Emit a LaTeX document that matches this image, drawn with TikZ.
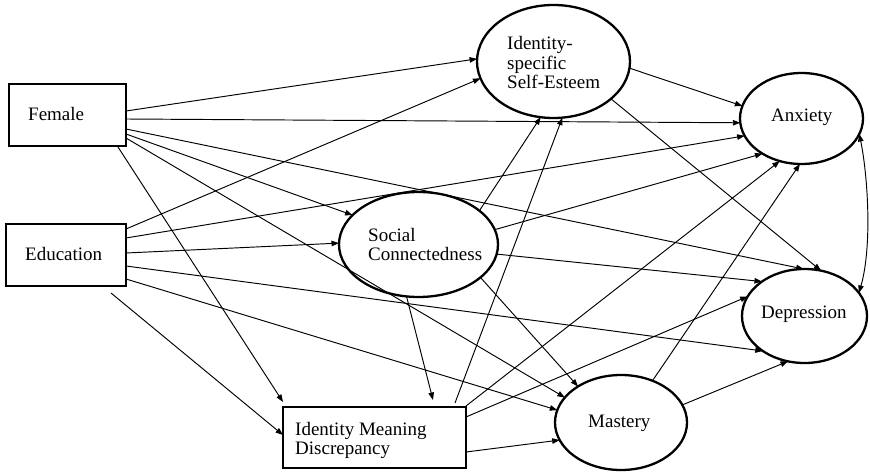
\documentclass[tikz,border=0pt]{standalone}
\usepackage{fontspec}
\setmainfont{Liberation Serif}
\usetikzlibrary{arrows.meta,calc,shapes.geometric}

\newcommand{\stack}[1]{\begin{tabular}[t]{@{}l@{}}#1\end{tabular}}

\begin{document}
\begin{tikzpicture}[x=1pt,y=-1pt,
  obsbox/.style={draw, rectangle, line width=1.8pt, inner sep=0pt, outer sep=0pt},
  latent/.style={draw, ellipse, line width=2.3pt, inner sep=0pt, outer sep=0pt},
  lbl/.style={anchor=base west, inner sep=0pt, font=\fontsize{19}{19.5}\selectfont},
  path/.style={line width=0.95pt, -{Triangle[length=7.5pt,width=5.5pt]}},
  cov/.style={line width=0.95pt, {Triangle[length=7.5pt,width=5.5pt]}-{Triangle[length=7.5pt,width=5.5pt]}}]

\fill[white] (0,0) rectangle (870,473);
\useasboundingbox (0,0) rectangle (870,473);

% observed variables
\node[obsbox, minimum width=117pt, minimum height=62pt] (fem) at (67.5,115) {};
\node[obsbox, minimum width=120pt, minimum height=62pt] (edu) at (66,255) {};
\node[obsbox, minimum width=183pt, minimum height=61pt] (imd) at (374.5,437.5) {};

% latent variables
\node[latent, minimum width=153pt, minimum height=113pt] (ise) at (553.5,61.5) {};
\node[latent, minimum width=123pt, minimum height=91pt] (anx) at (801.5,118.5) {};
\node[latent, minimum width=125pt, minimum height=94pt] (dep) at (804.5,316) {};
\node[latent, minimum width=159pt, minimum height=105pt] (sc) at (418.5,244.5) {};
\node[latent, minimum width=132pt, minimum height=95pt] (mas) at (621,422.5) {};

% labels
\node[lbl] (fem-t) at (28,121) {Female};
\node[lbl] (edu-t) at (25,260) {Education};
\node[lbl] (imd-t) at (295,435) {\stack{Identity Meaning\\Discrepancy}};
\node[lbl] (ise-t) at (507,50) {\stack{Identity-\\specific\\Self-Esteem}};
\node[lbl] (sc-t) at (368,241) {\stack{Social\\Connectedness}};
\node[lbl] (anx-t) at (771,122) {Anxiety};
\node[lbl] (dep-t) at (761,318) {Depression};
\node[lbl] (mas-t) at (588,427) {Mastery};

% paths from Female
\draw[path] ($(fem.east)+(0,-4)$) -- (ise.178.2);
\draw[path] ($(fem.east)+(0,4)$) -- (anx.184.9);
\draw[path] ($(fem.east)+(0,14)$) -- (dep.91.8);
\draw[path] ($(fem.east)+(0,19)$) -- (sc.156.9);
\draw[path] ($(fem.east)+(0,23)$) -- (mas.156.3);
\draw[path] ($(fem.south east)+(-8,1)$) -- ($(imd.north west)+(0,-5)$);

% paths from Education
\draw[path] ($(edu.east)+(0,-26)$) -- (ise.193.3);
\draw[path] ($(edu.east)+(0,-17)$) -- (anx.197.1);
\draw[path] ($(edu.east)+(0,-2)$) -- (sc.179);
\draw[path] ($(edu.east)+(0,11)$) -- (dep.220.3);
\draw[path] ($(edu.east)+(0,24)$) -- (mas.169.6);
\draw[path] ($(edu.south east)+(-15,7)$) -- ($(imd.west)+(0,-2.5)$);

% paths from Social Connectedness
\draw[path] (sc.29.3) -- (ise.257.2);
\draw[path] (sc.11.2) -- (anx.222.2);
\draw[path] (sc.353.6) -- (dep.141.3);
\draw[path] (sc.332.6) -- (mas.140.5);
\draw[path] (sc.257.9) -- ($(imd.north)+(58.5,-7)$);

% paths from Identity Meaning Discrepancy
\draw[path] ($(imd.north east)+(-11,-4)$) -- (ise.279.1);
\draw[path] ($(imd.north east)+(0,-1)$) -- (anx.243.7);
\draw[path] ($(imd.north east)+(0,10)$) -- (dep.161.4);
\draw[path] ($(imd.east)+(0,14.5)$) -- (mas.196.8);

% paths from Identity-specific Self-Esteem
\draw[path] (ise.355.1) -- (anx.168.9);
\draw[path] (ise.327.5) -- (dep.70);

% paths from Mastery
\draw[path] (mas.53.4) -- (anx.268.4);
\draw[path] (mas.16.5) -- (dep.250.3);

% residual covariance
\draw[cov] (anx.345) .. controls +(9,45) and +(13,-45) .. (dep.23.8);

\end{tikzpicture}
\end{document}
